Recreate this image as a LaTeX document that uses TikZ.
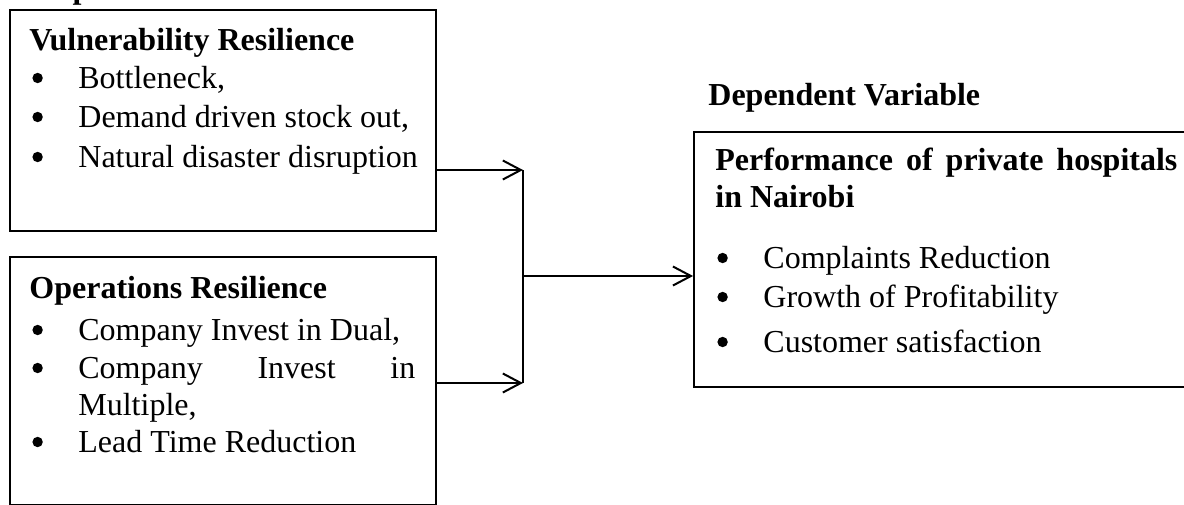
\documentclass[tikz,border=0pt]{standalone}
\usepackage{fontspec}
\setmainfont{Liberation Serif}
\usetikzlibrary{arrows.meta}
\newcommand\bul{\makebox[23pt][l]{\begin{tikzpicture}[baseline=0pt,x=1pt,y=1pt]\useasboundingbox (0pt,0pt) rectangle (5pt,10pt);\fill (2.6pt,5pt) circle[radius=2.6pt];\end{tikzpicture}}}
\begin{document}
\begin{tikzpicture}[x=0.5pt,y=-0.5pt,
  box/.style={draw, line width=0.9pt, inner sep=0pt, rectangle},
  txt/.style={anchor=base west, inner sep=0pt, font=\fontsize{16pt}{19.5pt}\selectfont},
  head/.style={anchor=base west, inner sep=0pt, font=\fontsize{16pt}{19.5pt}\selectfont\bfseries},
  conn/.style={line width=1pt},
  arr/.style={conn, -{Straight Barb[length=9pt,width=9.5pt,line width=1pt]}}]
\useasboundingbox (0,0) rectangle (1184,504);

% boxes
\node[box, minimum width=213pt, minimum height=110.5pt] (vul) at (223,120.5) {};
\node[box, minimum width=213pt, minimum height=124pt] (ops) at (223,381) {};
\node[box, minimum width=248pt, minimum height=127.5pt] (perf) at (942,259.5) {};

% headings
\node[head] (indep) at (10,-2) {Independent Variables};
\node[head] (dep) at (708,105) {Dependent Variable};

% vulnerability box text
\node[head] (vt) at (29,50) {Vulnerability Resilience};
\node[txt] (v1) at (32,88) {\bul Bottleneck,};
\node[txt] (v2) at (32,127) {\bul Demand driven stock out,};
\node[txt] (v3) at (32,167) {\bul Natural disaster disruption};

% operations box text
\node[head] (ot) at (29,298) {Operations Resilience};
\node[txt] (o1) at (32,340) {\bul Company Invest in Dual,};
\node[txt] (o2) at (32,378) {\bul\makebox[168.5pt][s]{Company\hfill Invest\hfill in}};
\node[txt] (o3) at (78,415) {Multiple,};
\node[txt] (o4) at (32,452) {\bul Lead Time Reduction};

% performance box text
\node[head] (pt1) at (715,170) {\makebox[231pt][s]{Performance\hfill of\hfill private\hfill hospitals}};
\node[head] (pt2) at (715,207) {in Nairobi};
\node[txt] (p1) at (717,268) {\bul Complaints Reduction};
\node[txt] (p2) at (717,307) {\bul Growth of Profitability};
\node[txt] (p3) at (717,352) {\bul Customer satisfaction};

% connectors
\coordinate (j1) at (523,170);
\coordinate (j2) at (523,276);
\coordinate (j3) at (523,383);
\draw[arr] (vul.east |- j1) -- (j1);
\draw[arr] (ops.east |- j3) -- (j3);
\draw[conn] (j1) -- (j3);
\draw[arr] (j2) -- (perf.west |- j2);
\end{tikzpicture}
\end{document}
